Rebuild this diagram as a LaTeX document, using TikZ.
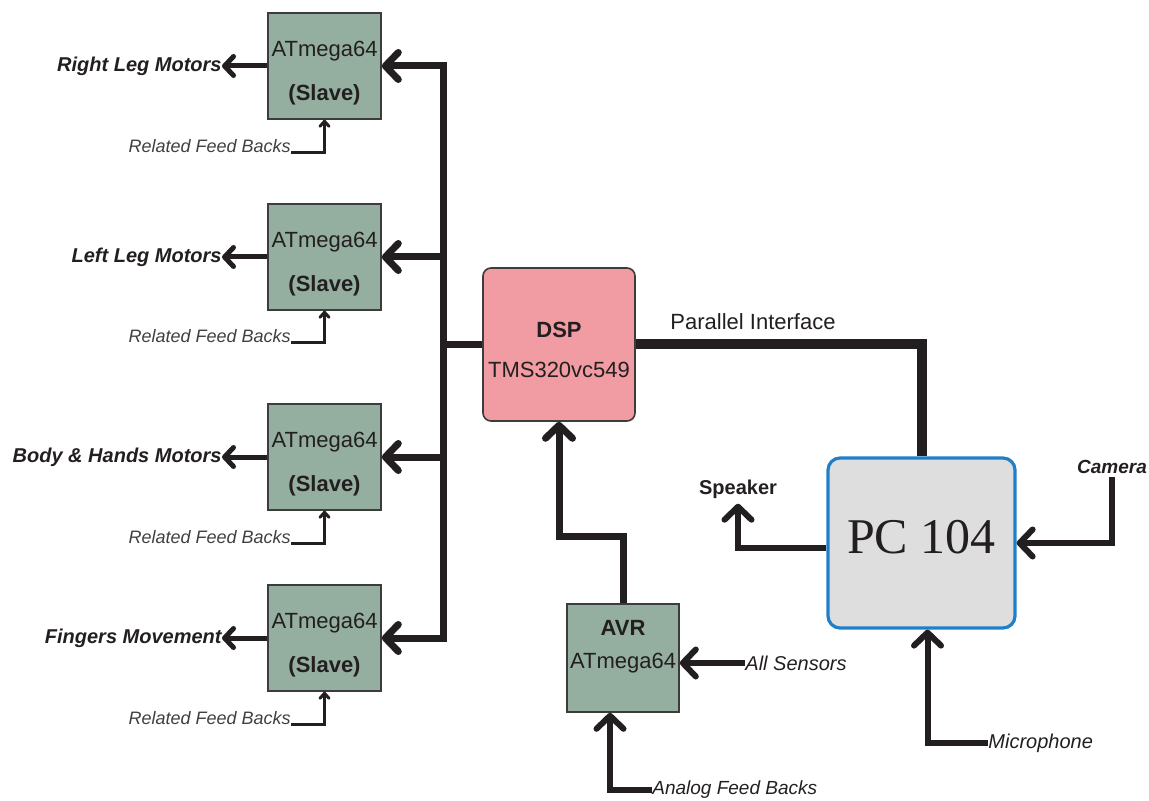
\documentclass[tikz,border=0pt]{standalone}
\usepackage{fontspec}
\setmainfont{Liberation Sans}
\newfontfamily\pcfont{Liberation Serif}
\usetikzlibrary{arrows.meta}
\definecolor{slavegreen}{HTML}{94AFA0}
\definecolor{dsppink}{HTML}{F09CA2}
\definecolor{pcgray}{HTML}{DEDEDE}
\definecolor{pcblue}{HTML}{1F80C8}
\definecolor{boxline}{HTML}{3C3C3C}
\definecolor{ink}{HTML}{231F20}
\definecolor{fbgray}{HTML}{404040}
\tikzset{x=0.5pt, y=-0.5pt,
    every node/.style={
        text=ink,
        inner sep=0pt},
    bigtip/.tip={Straight Barb[length=6.5pt,width=13.5pt,round]},
    midtip/.tip={Straight Barb[length=4.5pt,width=9.5pt,round]},
    smalltip/.tip={Straight Barb[length=2.5pt,width=4.5pt,round]},
    chip/.style={
        draw=boxline,
        line width=0.8pt,
        fill=slavegreen,
        minimum width=56.5pt,
        minimum height=53pt},
    dspbox/.style={
        draw=boxline,
        line width=0.8pt,
        fill=dsppink,
        rounded corners=4pt,
        minimum width=76pt,
        minimum height=76.5pt},
    pcbox/.style={
        draw=pcblue,
        line width=1.6pt,
        fill=pcgray,
        rounded corners=6pt,
        minimum width=93.5pt,
        minimum height=85pt},
    chiptxt/.style={font=\fontsize{11}{13}\selectfont},
    chipbold/.style={font=\fontsize{11}{13}\selectfont\bfseries},
    outtxt/.style={anchor=east, font=\fontsize{10}{12}\selectfont\bfseries\itshape},
    fbtxt/.style={anchor=base east, text=fbgray, font=\fontsize{9}{11}\selectfont\itshape},
    sigtxt/.style={font=\fontsize{10}{12}\selectfont\itshape},
    bus/.style={draw=ink, line width=3.5pt, line join=miter},
    outline/.style={draw=ink, line width=2.5pt, -midtip},
    fbline/.style={draw=ink, line width=1.5pt, -smalltip},
    sig/.style={draw=ink, line width=3pt, -bigtip}}

\begin{document}
\begin{tikzpicture}
    \useasboundingbox (0,0) rectangle (1149,801);

    % slave controllers
    \node[chip] (s1) at (324.5,66) {};
    \node[chiptxt] (s1a) at (324.5,51) {ATmega64};
    \node[chipbold] (s1b) at (324.5,95) {(Slave)};
    \node[chip] (s2) at (324.5,257) {};
    \node[chiptxt] (s2a) at (324.5,242) {ATmega64};
    \node[chipbold] (s2b) at (324.5,286) {(Slave)};
    \node[chip] (s3) at (324.5,457) {};
    \node[chiptxt] (s3a) at (324.5,442) {ATmega64};
    \node[chipbold] (s3b) at (324.5,486) {(Slave)};
    \node[chip] (s4) at (324.5,638) {};
    \node[chiptxt] (s4a) at (324.5,623) {ATmega64};
    \node[chipbold] (s4b) at (324.5,667) {(Slave)};

    \node[outtxt] (rlm) at (222,66) {Right Leg Motors};
    \node[outtxt] (llm) at (222,257) {Left Leg Motors};
    \node[outtxt] (bhm) at (222,457) {Body \& Hands Motors};
    \node[outtxt] (fgm) at (222,638) {Fingers Movement};

    \node[fbtxt] (fb1) at (291,153) {Related Feed Backs};
    \node[fbtxt] (fb2) at (291,343) {Related Feed Backs};
    \node[fbtxt] (fb3) at (291,543) {Related Feed Backs};
    \node[fbtxt] (fb4) at (291,724) {Related Feed Backs};

    % DSP, AVR and PC
    \node[dspbox] (dsp) at (559,344.5) {};
    \node[chipbold] (dspa) at (559,330) {DSP};
    \node[chiptxt] (dspb) at (559,370) {TMS320vc549};
    \node[chip, minimum width=56pt, minimum height=54pt] (avr) at (623,658) {};
    \node[chipbold] (avra) at (623,628) {AVR};
    \node[chiptxt] (avrb) at (623,663) {ATmega64};
    \node[pcbox] (pc) at (921.5,543) {};
    \node[font=\pcfont\fontsize{25}{30}\selectfont] (pct) at (921.5,537) {PC 104};

    \node[chiptxt] (par) at (753,322) {Parallel Interface};
    \node[font=\fontsize{10}{12}\selectfont\bfseries] (spk) at (738,489) {Speaker};
    \node[font=\fontsize{9.5}{11}\selectfont\bfseries\itshape] (cam) at (1112,467) {Camera};
    \node[sigtxt, anchor=west] (mic) at (988,743) {Microphone};
    \node[sigtxt, anchor=west] (sens) at (745,663) {All Sensors};
    \node[sigtxt, anchor=west, font=\fontsize{9.5}{11}\selectfont\itshape] (ana) at (652,790) {Analog Feed Backs};

    % bus to the slaves
    \coordinate (b1) at (443,66);
    \coordinate (b2) at (443,257);
    \coordinate (b3) at (443,457);
    \coordinate (b4) at (443,638);
    \draw[bus, bigtip-bigtip] (s1.east) -- (b1) -- (b4) -- (s4.east);
    \draw[bus, -bigtip] (b2) -- (s2.east);
    \draw[bus, -bigtip] (b3) -- (s3.east);
    \draw[bus] (dsp.west) -- (dsp.west -| b1);

    \draw[outline] (s1.west) -- (rlm.east);
    \draw[outline] (s2.west) -- (llm.east);
    \draw[outline] (s3.west) -- (bhm.east);
    \draw[outline] (s4.west) -- (fgm.east);

    \draw[fbline] (fb1.base east) -| (s1.south);
    \draw[fbline] (fb2.base east) -| (s2.south);
    \draw[fbline] (fb3.base east) -| (s3.south);
    \draw[fbline] (fb4.base east) -| (s4.south);

    % DSP links
    \draw[draw=ink, line width=5pt, line join=miter] (dsp.east) -| (pc.north);
    \draw[sig, line width=3.5pt] (avr.north) -- ++(0,-67) -| (dsp.south);
    \draw[sig] (sens.west) -- (sens.west -| avr.east);
    \draw[sig] (ana.west) -| ([xshift=-6.5pt]avr.south);

    % PC links
    \draw[sig] ([yshift=-2.5pt]pc.west) -| ([yshift=-2.5pt]spk.south);
    \draw[sig] ([yshift=-1.5pt]cam.south) |- (pc.east);
    \draw[sig] (mic.west) -| ([xshift=3pt]pc.south);
\end{tikzpicture}
\end{document}
